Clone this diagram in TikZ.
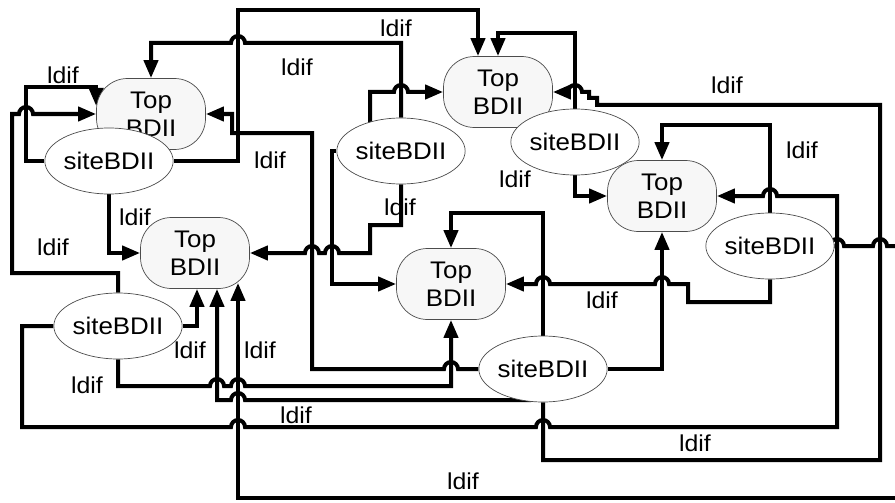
\documentclass[tikz,border=0pt]{standalone}
\usepackage{fontspec}
\setmainfont{Liberation Sans}[FakeStretch=1.08]
\usetikzlibrary{arrows.meta,calc,backgrounds,shapes.geometric}
\begin{document}
\begin{tikzpicture}[x=1pt,y=-1pt,
  topn/.style={draw=black!70, line width=0.7pt, fill=black!3, rounded corners=31pt,
    minimum width=109pt, minimum height=71pt, inner sep=0pt, align=center,
    font=\fontsize{24}{28}\selectfont},
  siten/.style={ellipse, draw=black!70, line width=0.7pt, fill=white,
    minimum width=109pt, minimum height=66pt, inner sep=0pt,
    font=\fontsize{24}{28}\selectfont},
  lbl/.style={font=\fontsize{23}{28}\selectfont, inner sep=0pt},
  conn/.style={line width=4pt},
  arr/.style={conn, -{Triangle[length=18pt,width=14pt]}},
]
\useasboundingbox (0,0) rectangle (895,503);
% nodes
\node[topn] (T1) at (151,114) {Top\\BDII};
\node[topn] (T2) at (195,253) {Top\\BDII};
\node[topn] (T3) at (498,92) {Top\\BDII};
\node[topn] (T4) at (662,196) {Top\\BDII};
\node[topn] (T5) at (451,284) {Top\\BDII};
\node[siten] (S1) at (109,161) {siteBDII};
\node[siten] (S2) at (401,151) {siteBDII};
\node[siten] (S3) at (575,142) {siteBDII};
\node[siten] (S4) at (770,246) {siteBDII};
\node[siten] (S5) at (118,326) {siteBDII};
\node[siten] (S6) at (543,369) {siteBDII};
\coordinate (E1) at (895,246);
\coordinate (E2) at (895,498);
% labels
\node[lbl] (L1) at (63,75) {ldif};
\node[lbl] (L2) at (297,67) {ldif};
\node[lbl] (L3) at (396,28) {ldif};
\node[lbl] (L4) at (270,160) {ldif};
\node[lbl] (L5) at (135,217) {ldif};
\node[lbl] (L6) at (53,247) {ldif};
\node[lbl] (L7) at (400,207) {ldif};
\node[lbl] (L8) at (515,179) {ldif};
\node[lbl] (L9) at (727,85) {ldif};
\node[lbl] (L10) at (802,150) {ldif};
\node[lbl] (L11) at (602,300) {ldif};
\node[lbl] (L12) at (190,350) {ldif};
\node[lbl] (L13) at (260,350) {ldif};
\node[lbl] (L14) at (87,385) {ldif};
\node[lbl] (L15) at (296,415) {ldif};
\node[lbl] (L16) at (695,443) {ldif};
\node[lbl] (L17) at (463,481) {ldif};
% connectors
\begin{scope}[on background layer]
\draw[arr] (S1.east) -- (238,161) -- (238,10) -| ([xshift=-20pt]T3.north);
\draw[arr] (S2.north) -- (401,43) -- (245,43) arc(0:180:7pt) -| (T1.north);
\draw[arr] (S6.west) -- (458,369) arc(0:180:7pt) -- (312,369) -- (312,133) -- (232,133) |- (T1.east);
\draw[arr] (S5.north) -- (118,273) -- (12,273) -- (12,114) -- (19,114) arc(180:0:7pt) -- (T1.west);
\draw[arr] (S1.west) -- (26,161) -- (26,87) -| ([yshift=8pt]T1.west);
\draw[arr] (S1.south) |- (T2.west);
\draw[arr] (S2.south) -- (401,225) -- (370,225) -- (370,253) -- (339,253) arc(0:180:7pt) -- (319,253) arc(0:180:7pt) -- (T2.east);
\draw[arr] (S2.west) -| (332,284) -- (T5.west);
\draw[arr] ([xshift=-31pt]S2.center) -- (370,92) -- (394,92) arc(180:0:7pt) -- (T3.west);
\draw[arr] (S6.south) -- (543,460) -- (880,460) -- (880,105) -- (597,105) -- (597,98) -- (589,98) -- (589,92) -- (582,92) arc(0:180:7pt) -- (T3.east);
\draw[arr] (S3.north) -- (575,33) -| (T3.north);
\draw[arr] (S3.south) |- (T4.west);
\draw[arr] (S4.north) -- (770,125) -| (T4.north);
\draw[arr] (S5.west) -- (22,326) -- (22,427) -- (231,427) arc(180:0:7pt) -- (536,427) arc(180:0:7pt) -- (837,427) -- (837,196) -- (777,196) arc(0:180:7pt) -- (T4.east);
\draw[conn] (S4.east) -- (830,246) arc(180:0:7pt) -- (873,246) arc(180:0:7pt) -- (E1);
\draw[arr] (S4.south) -- (770,302) -- (688,302) -- (688,284) -- (669,284) arc(0:180:7pt) -- (550,284) arc(0:180:7pt) -- (T5.east);
\draw[arr] (S6.north) -- (543,213) -| (T5.north);
\draw[arr] (S5.south) -- (118,386) -- (210,386) arc(180:0:7pt) -- (231,386) arc(180:0:7pt) -- (451,386) -- (T5.south);
\draw[arr] (S5.east) -| ([xshift=2pt]T2.south);
\draw[arr] ([xshift=-12pt,yshift=-31pt]S6.center) -- (245,400) arc(0:180:7pt) -| ([xshift=22pt]T2.south);
\draw[arr] (E2) -- (238,498) -- ([xshift=43pt,yshift=6pt]T2.south);
\draw[arr] (S6.east) -| (T4.south);
\end{scope}
\end{tikzpicture}
\end{document}
